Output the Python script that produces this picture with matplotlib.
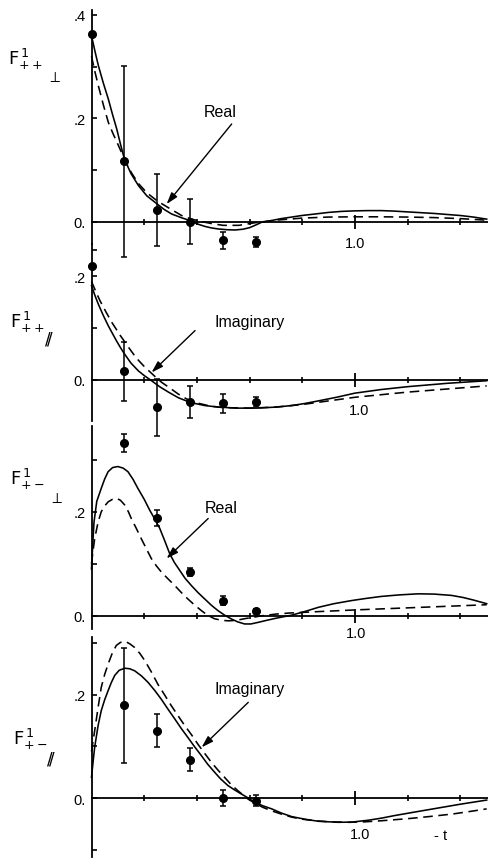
import numpy as np
import matplotlib
matplotlib.use("Agg")
import matplotlib.pyplot as plt

plt.rcParams['font.family'] = ['Liberation Sans', 'DejaVu Sans']
plt.rcParams['mathtext.fontset'] = 'dejavusans'

# measured points: -t and the four amplitudes with errors
t_pp = [0.0, 0.125, 0.25, 0.375, 0.5, 0.625]
t_pm = [0.125, 0.25, 0.375, 0.5, 0.625]

pp_perp_val = [0.364, 0.117, 0.023, 0.0, -0.036, -0.039]
pp_perp_err = [0.0, 0.185, 0.07, 0.044, 0.016, 0.01]

pp_par_val = [0.220, 0.016, -0.053, -0.044, -0.046, -0.043]
pp_par_err = [0.0, 0.057, 0.055, 0.031, 0.018, 0.01]

pm_perp_val = [0.332, 0.188, 0.084, 0.029, 0.009]
pm_perp_err = [0.018, 0.016, 0.008, 0.008, 0.004]

pm_par_val = [0.179, 0.130, 0.074, 0.0, -0.005]
pm_par_err = [0.112, 0.032, 0.022, 0.016, 0.011]

# model curves (solid and dashed fits)
pp_perp_solid_t = [0, 0.013, 0.026, 0.045, 0.064, 0.08, 0.096, 0.11, 0.125, 0.15, 0.178, 0.21,
                   0.25, 0.275, 0.304, 0.34, 0.375, 0.4, 0.43, 0.455, 0.481, 0.515, 0.545, 0.575,
                   0.6, 0.625, 0.646, 0.68, 0.72, 0.76, 0.798, 0.85, 0.9, 0.95, 1.0, 1.05, 1.1,
                   1.15, 1.2, 1.25, 1.3, 1.35, 1.4, 1.45, 1.5]
pp_perp_solid = [0.360, 0.330, 0.302, 0.268, 0.237, 0.207, 0.179, 0.150, 0.121, 0.093, 0.070,
                 0.050, 0.034, 0.024, 0.015, 0.008, 0.002, -0.004, -0.009, -0.012, -0.014,
                 -0.0155, -0.016, -0.0145, -0.0115, -0.006, -0.001, 0.002, 0.006, 0.009, 0.012,
                 0.015, 0.018, 0.020, 0.021, 0.0215, 0.0215, 0.0205, 0.019, 0.0175, 0.016,
                 0.014, 0.012, 0.009, 0.005]
pp_perp_dash_t = [0, 0.013, 0.026, 0.045, 0.064, 0.082, 0.1, 0.125, 0.15, 0.178, 0.21, 0.25,
                  0.292, 0.342, 0.38, 0.42, 0.46, 0.5, 0.56, 0.62, 0.7, 0.8, 0.9, 1.0, 1.1, 1.2,
                  1.3, 1.4, 1.5]
pp_perp_dash = [0.320, 0.290, 0.263, 0.226, 0.192, 0.170, 0.150, 0.121, 0.096, 0.074, 0.056,
                0.040, 0.027, 0.012, 0.005, 0.0, -0.004, -0.007, -0.007, -0.002, 0.003, 0.007,
                0.009, 0.0095, 0.0095, 0.009, 0.008, 0.006, 0.003]

pp_par_solid_t = [0, 0.013, 0.026, 0.045, 0.064, 0.08, 0.095, 0.11, 0.125, 0.15, 0.178, 0.2,
                  0.228, 0.26, 0.292, 0.33, 0.375, 0.43, 0.481, 0.55, 0.627, 0.7, 0.76, 0.81,
                  0.861, 0.93, 1.0, 1.1, 1.2, 1.35, 1.5]
pp_par_solid = [0.182, 0.163, 0.146, 0.124, 0.104, 0.089, 0.075, 0.062, 0.050, 0.032, 0.017,
                0.008, -0.002, -0.014, -0.024, -0.035, -0.044, -0.050, -0.053, -0.055, -0.055,
                -0.053, -0.050, -0.046, -0.041, -0.034, -0.026, -0.019, -0.0135, -0.007, -0.002]
pp_par_dash_t = [0, 0.016, 0.032, 0.055, 0.077, 0.11, 0.14, 0.17, 0.203, 0.25, 0.266, 0.3,
                 0.33, 0.36, 0.393, 0.45, 0.5, 0.6, 0.7, 0.8, 0.9, 1.0, 1.1, 1.2, 1.35, 1.5]
pp_par_dash = [0.19, 0.171, 0.153, 0.131, 0.111, 0.085, 0.063, 0.042, 0.024, 0.002, -0.005,
               -0.017, -0.028, -0.037, -0.044, -0.051, -0.054, -0.055, -0.053, -0.048, -0.041,
               -0.034, -0.029, -0.024, -0.018, -0.012]

pm_perp_solid_t = [0, 0.005, 0.0095, 0.02, 0.037, 0.05, 0.063, 0.08, 0.1, 0.12, 0.1385, 0.158,
                   0.176, 0.2, 0.221, 0.24, 0.259, 0.278, 0.297, 0.315, 0.335, 0.355, 0.379,
                   0.405, 0.43, 0.455, 0.48, 0.505, 0.531, 0.555, 0.581, 0.605, 0.632, 0.665,
                   0.7, 0.73, 0.76, 0.81, 0.861, 0.92, 0.987, 1.04, 1.1, 1.17, 1.24, 1.3,
                   1.366, 1.41, 1.45, 1.5]
pm_perp_solid = [0.09, 0.14, 0.18, 0.22, 0.245, 0.263, 0.277, 0.285, 0.287, 0.284, 0.277,
                 0.262, 0.245, 0.224, 0.203, 0.186, 0.168, 0.144, 0.119, 0.102, 0.087, 0.072,
                 0.058, 0.044, 0.032, 0.020, 0.0097, 0.001, -0.0064, -0.012, -0.016, -0.016,
                 -0.013, -0.009, -0.005, -0.002, 0.001, 0.008, 0.016, 0.023, 0.029, 0.033,
                 0.037, 0.040, 0.042, 0.0415, 0.039, 0.035, 0.030, 0.023]
pm_perp_dash_t = [0, 0.006, 0.012, 0.025, 0.037, 0.05, 0.063, 0.08, 0.094, 0.11, 0.126, 0.14,
                  0.151, 0.17, 0.189, 0.208, 0.227, 0.246, 0.265, 0.29, 0.316, 0.34, 0.366,
                  0.39, 0.417, 0.44, 0.467, 0.495, 0.52, 0.55, 0.58, 0.615, 0.65, 0.7, 0.75,
                  0.87, 1.0, 1.2, 1.35, 1.5]
pm_perp_dash = [0.10, 0.125, 0.148, 0.18, 0.2, 0.211, 0.219, 0.224, 0.226, 0.222, 0.213, 0.2,
                0.187, 0.168, 0.148, 0.129, 0.110, 0.096, 0.084, 0.071, 0.058, 0.045, 0.032,
                0.021, 0.0097, 0.001, -0.006, -0.009, -0.010, -0.009, -0.006, -0.003, 0.0,
                0.003, 0.005, 0.008, 0.011, 0.015, 0.018, 0.021]

pm_par_solid_t = [0, 0.006, 0.012, 0.025, 0.037, 0.05, 0.063, 0.075, 0.088, 0.105, 0.126,
                  0.145, 0.164, 0.19, 0.214, 0.24, 0.265, 0.29, 0.316, 0.34, 0.366, 0.39,
                  0.417, 0.44, 0.467, 0.49, 0.518, 0.545, 0.569, 0.595, 0.62, 0.65, 0.684,
                  0.72, 0.76, 0.81, 0.861, 0.9, 0.937, 0.99, 1.05, 1.1, 1.15, 1.24, 1.32,
                  1.4, 1.45, 1.5]
pm_par_solid = [0.04, 0.07, 0.098, 0.14, 0.169, 0.19, 0.2075, 0.223, 0.237, 0.247, 0.251,
                0.25, 0.246, 0.236, 0.224, 0.208, 0.191, 0.172, 0.153, 0.135, 0.117, 0.100,
                0.082, 0.066, 0.050, 0.037, 0.024, 0.015, 0.0077, 0.0, -0.0084, -0.015,
                -0.021, -0.029, -0.036, -0.041, -0.045, -0.046, -0.047, -0.0465, -0.043,
                -0.039, -0.034, -0.026, -0.019, -0.012, -0.008, -0.004]
pm_par_dash_t = [0, 0.006, 0.012, 0.025, 0.037, 0.05, 0.063, 0.078, 0.094, 0.11, 0.128,
                 0.146, 0.164, 0.183, 0.202, 0.227, 0.252, 0.278, 0.303, 0.33, 0.354, 0.38,
                 0.404, 0.43, 0.455, 0.48, 0.505, 0.53, 0.556, 0.575, 0.594, 0.62, 0.65,
                 0.685, 0.72, 0.76, 0.8, 0.85, 0.9, 0.98, 1.04, 1.1, 1.2, 1.28, 1.37, 1.45, 1.5]
pm_par_dash = [0.09, 0.11, 0.13, 0.175, 0.214, 0.239, 0.259, 0.279, 0.295, 0.301, 0.303,
               0.298, 0.291, 0.28, 0.266, 0.244, 0.22, 0.199, 0.1785, 0.158, 0.14, 0.122,
               0.104, 0.086, 0.069, 0.054, 0.040, 0.026, 0.014, 0.006, -0.002, -0.010,
               -0.018, -0.025, -0.031, -0.037, -0.041, -0.044, -0.046, -0.047, -0.046, -0.044,
               -0.040, -0.036, -0.031, -0.025, -0.021]

fig = plt.figure(figsize=(4.88, 8.62), dpi=100)

W, H = 488.0, 862.0
x0 = 91.5
# (top px, bottom px, ylim)
panels = [
    (11, 245, (-0.0431, 0.4095)),
    (245, 422, (-0.0799, 0.2625)),
    (427, 630, (-0.0257, 0.365)),
    (638, 858, (-0.1141, 0.3114)),
]

axes = []
for top, bot, ylim in panels:
    ax = fig.add_axes([x0 / W, 1 - bot / H, (W - x0) / W, (bot - top) / H])
    ax.set_facecolor('none')
    ax.set_xlim(0, 1.505)
    ax.set_ylim(*ylim)
    for s in ['top', 'right']:
        ax.spines[s].set_visible(False)
    ax.spines['bottom'].set_position(('data', 0))
    ax.spines['left'].set_linewidth(1.3)
    ax.spines['bottom'].set_linewidth(1.3)
    ax.set_xticks([1.0])
    ax.set_xticks([0.2, 0.4, 0.6, 0.8, 1.2, 1.4], minor=True)
    ax.set_xticklabels([])
    ax.tick_params(axis='x', which='major', direction='inout', length=10, width=1.3)
    ax.tick_params(axis='x', which='minor', direction='inout', length=5, width=1.2)
    ax.tick_params(axis='y', which='both', direction='in', length=3.6, width=1.2,
                   labelsize=10.5, pad=4)
    axes.append(ax)

axes[0].set_yticks([0, 0.2, 0.4], ['0.', '.2', '.4'])
axes[0].set_yticks([0.1, 0.3], minor=True)
axes[1].set_yticks([0, 0.2], ['0.', '.2'])
axes[1].set_yticks([0.1, 0.25], minor=True)
axes[2].set_yticks([0, 0.2], ['0.', '.2'])
axes[2].set_yticks([0.1, 0.3], minor=True)
axes[3].set_yticks([0, 0.2], ['0.', '.2'])
axes[3].set_yticks([-0.1, 0.1, 0.3], minor=True)


def draw(ax, st, sv, dt, dv, pt, pv, pe):
    ax.plot(st, sv, color='k', lw=1.15, clip_on=False)
    ax.plot(dt, dv, color='k', lw=1.15, dashes=(6, 3.5), clip_on=False)
    eb = ax.errorbar(pt, pv, yerr=pe, fmt='o', color='k', ms=5.5, capsize=2.5,
                     elinewidth=1.1, capthick=1.1)
    for art in eb.get_children():
        art.set_clip_on(False)


draw(axes[0], pp_perp_solid_t, pp_perp_solid, pp_perp_dash_t, pp_perp_dash,
     t_pp, pp_perp_val, pp_perp_err)
draw(axes[1], pp_par_solid_t, pp_par_solid, pp_par_dash_t, pp_par_dash,
     t_pp, pp_par_val, pp_par_err)
draw(axes[2], pm_perp_solid_t, pm_perp_solid, pm_perp_dash_t, pm_perp_dash,
     t_pm, pm_perp_val, pm_perp_err)
draw(axes[3], pm_par_solid_t, pm_par_solid, pm_par_dash_t, pm_par_dash,
     t_pm, pm_par_val, pm_par_err)

# "1.0" labels and -t
axes[0].text(1.0, -0.041, '1.0', ha='center', va='center', fontsize=10.5)
axes[1].text(1.015, -0.059, '1.0', ha='center', va='center', fontsize=10.5)
axes[2].text(1.005, -0.034, '1.0', ha='center', va='center', fontsize=10.5)
axes[3].text(1.02, -0.07, '1.0', ha='center', va='center', fontsize=10.5)
axes[3].text(1.325, -0.071, '- t', ha='center', va='center', fontsize=10.5)

# labels with arrows
arrow = dict(arrowstyle='-|>,head_length=0.7,head_width=0.22', color='k', lw=1.0,
             shrinkA=0, shrinkB=0, mutation_scale=10)
notes = [
    (axes[0], 'Real', (0.488, 0.214), (0.532, 0.189), (0.285, 0.034)),
    (axes[1], 'Imaginary', (0.601, 0.1135), (0.393, 0.095), (0.228, 0.014)),
    (axes[2], 'Real', (0.491, 0.209), (0.443, 0.187), (0.285, 0.110)),
    (axes[3], 'Imaginary', (0.601, 0.211), (0.595, 0.185), (0.418, 0.098)),
]
for ax, txt, pos, tail, head in notes:
    ax.text(pos[0], pos[1], txt, ha='center', va='center', fontsize=11.5)
    ax.annotate('', xy=head, xytext=tail, arrowprops=arrow, annotation_clip=False)

# amplitude names on the left
def fig_text(x, y, s, size, **kw):
    fig.text(x / W, 1 - y / H, s, fontsize=size, ha='left', va='baseline', **kw)


fig_text(8, 65, r'$\mathrm{F}^{\,1}_{++}$', 13)
fig_text(47, 82, r'$\perp$', 11)
fig_text(10, 328, r'$\mathrm{F}^{\,1}_{++}$', 13)
fig_text(44, 345, r'$/\!\!\!/$', 12)
fig_text(10, 485, r'$\mathrm{F}^{\,1}_{+-}$', 13)
fig_text(49, 503, r'$\perp$', 11)
fig_text(13, 745, r'$\mathrm{F}^{\,1}_{+-}$', 13)
fig_text(46, 765, r'$/\!\!\!/$', 12)

fig.savefig('out.png', dpi=100)
